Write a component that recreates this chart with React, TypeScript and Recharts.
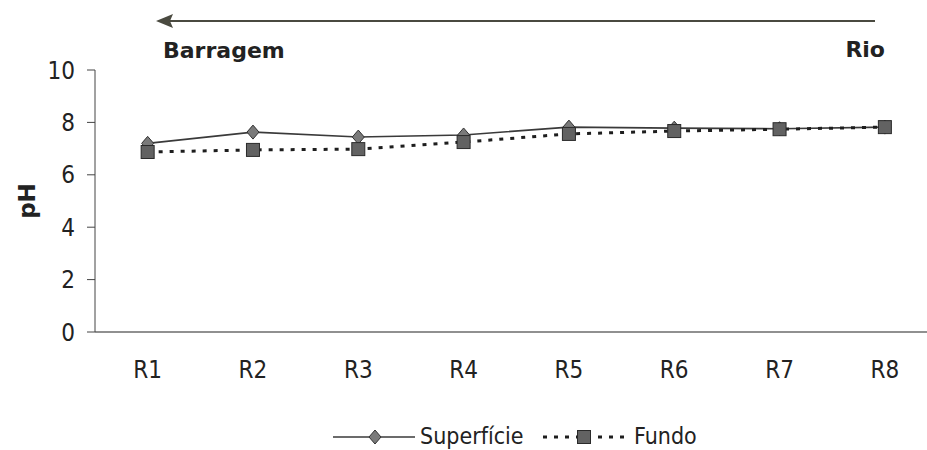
import { LineChart, Line, XAxis, YAxis } from "recharts";

const categories = ["R1", "R2", "R3", "R4", "R5", "R6", "R7", "R8"];
const superficie = [7.2, 7.63, 7.44, 7.52, 7.82, 7.78, 7.76, 7.82];
const fundo = [6.87, 6.95, 6.98, 7.25, 7.56, 7.67, 7.74, 7.82];
const yTicks = [0, 2, 4, 6, 8, 10];

const data = categories.map((name, i) => ({
  name,
  pos: i + 0.5,
  superficie: superficie[i],
  fundo: fundo[i],
}));

const labelTicks = categories.map((_, i) => i + 0.5);
const boundaryTicks = categories.map((_, i) => i);

const FONT = "'DejaVu Sans Condensed', 'DejaVu Sans', sans-serif";

function Diamond({ cx, cy }: any) {
  if (cx == null || cy == null) return null;
  return (
    <polygon
      points={`${cx},${cy - 7} ${cx + 6},${cy} ${cx},${cy + 7} ${cx - 6},${cy}`}
      fill="#7a7a7a"
      stroke="#333"
      strokeWidth={1}
    />
  );
}

function Square({ cx, cy }: any) {
  if (cx == null || cy == null) return null;
  return <rect x={cx - 6.5} y={cy - 6.5} width={13} height={13} fill="#626262" stroke="#2a2a2a" strokeWidth={1} />;
}

export default function App() {
  return (
    <div style={{ position: "absolute", left: 0, top: 0, width: 927, height: 450, background: "#fff", overflow: "hidden" }}>
      <LineChart width={927} height={450} data={data} margin={{ top: 70, right: 0, left: 0, bottom: 78 }}>
        {/* boundary ticks + axis line */}
        <XAxis
          dataKey="pos"
          type="number"
          domain={[0, 7.9]}
          allowDataOverflow
          ticks={boundaryTicks}
          tick={false}
          tickSize={7}
          height={1}
          axisLine={{ stroke: "#222", strokeWidth: 1.2 }}
          tickLine={{ stroke: "#444" }}
        />
        {/* category labels centred in each band */}
        <XAxis
          xAxisId="lab"
          dataKey="pos"
          type="number"
          domain={[0, 7.9]}
          allowDataOverflow
          ticks={labelTicks}
          interval={0}
          tickFormatter={(v: number) => categories[Math.round(v - 0.5)]}
          axisLine={false}
          tickLine={false}
          tickMargin={22}
          height={39}
          tick={{ fill: "#222", fontSize: 24, fontFamily: FONT }}
        />
        <YAxis
          domain={[0, 10]}
          ticks={yTicks}
          width={95}
          tickSize={8}
          tickMargin={12}
          stroke="#444"
          tick={{ fill: "#222", fontSize: 24, fontFamily: FONT }}
          label={{
            value: "pH",
            angle: -90,
            position: "insideLeft",
            offset: 27,
            style: { textAnchor: "middle", fontWeight: "bold", fontSize: 23, fill: "#222", fontFamily: "'DejaVu Sans', sans-serif" },
          }}
        />
        <Line
          dataKey="superficie"
          stroke="#3a3a3a"
          strokeWidth={1.6}
          dot={<Diamond />}
          isAnimationActive={false}
        />
        <Line
          dataKey="fundo"
          stroke="#1e1e1e"
          strokeWidth={3}
          strokeDasharray="4 7"
          dot={<Square />}
          isAnimationActive={false}
        />
      </LineChart>

      {/* direction arrow and labels */}
      <svg width={927} height={70} style={{ position: "absolute", left: 0, top: 0 }}>
        <line x1={170} y1={21} x2={875} y2={21} stroke="#4a4a40" strokeWidth={2} />
        <polygon points="156,21 173,14 170,21 173,28" fill="#4a4a40" />
        <text x={163} y={58} fontFamily="'DejaVu Sans', sans-serif" fontWeight="bold" fontSize={22} fill="#222">
          Barragem
        </text>
        <text x={885} y={57} textAnchor="end" fontFamily="'DejaVu Sans', sans-serif" fontWeight="bold" fontSize={22} fill="#222">
          Rio
        </text>
      </svg>

      {/* legend */}
      <svg width={927} height={32} style={{ position: "absolute", left: 0, top: 418 }}>
        <line x1={333} y1={19} x2={415} y2={19} stroke="#3a3a3a" strokeWidth={1.6} />
        <Diamond cx={375} cy={19} />
        <text x={420} y={26} fontFamily={FONT} fontSize={23} fill="#222">
          Superfície
        </text>
        <line x1={543} y1={19} x2={630} y2={19} stroke="#1e1e1e" strokeWidth={3} strokeDasharray="4 7" />
        <Square cx={584} cy={19} />
        <text x={634} y={26} fontFamily={FONT} fontSize={23} fill="#222">
          Fundo
        </text>
      </svg>
    </div>
  );
}
